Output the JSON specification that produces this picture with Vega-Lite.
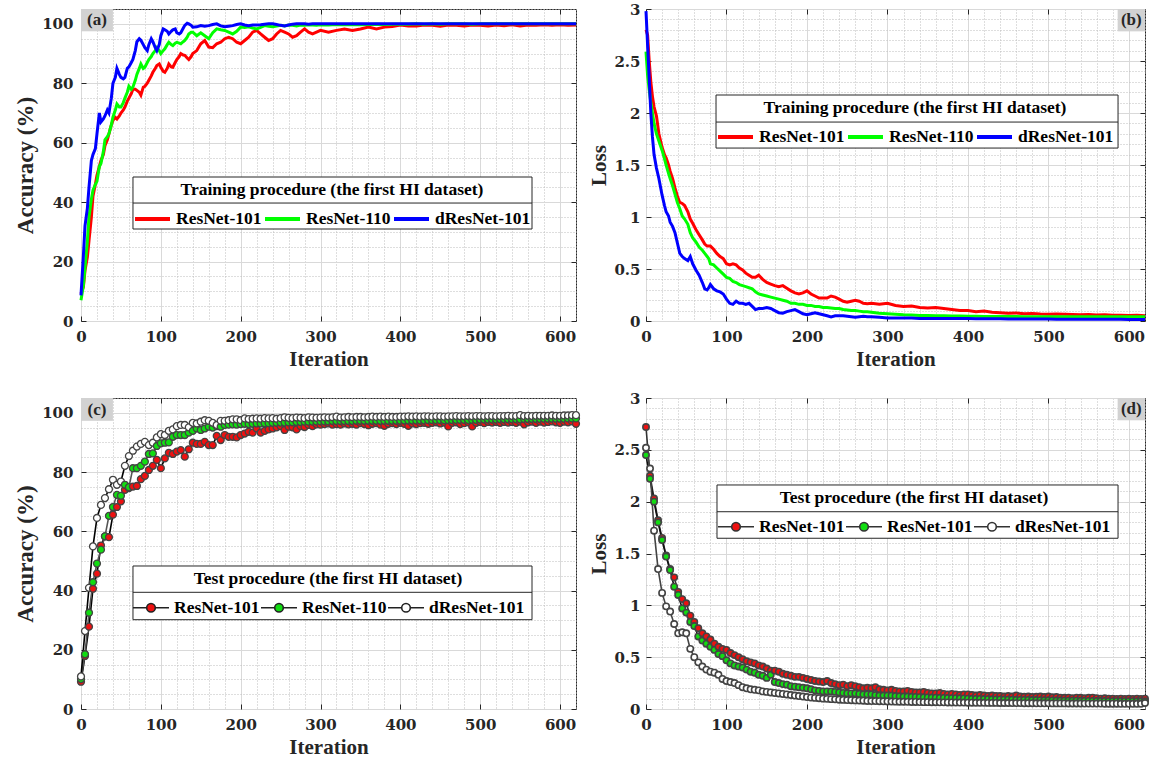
{
"$schema": "https://vega.github.io/schema/vega-lite/v6.json",
"padding": {"left": 14, "top": 1, "right": 2, "bottom": 2},
"background": "white",
"datasets": {
"trainAcc": [
{"iter":0,"ResNet-101":9.2,"ResNet-110":7.0,"dResNet-101":8.6},
{"iter":3,"ResNet-101":11.5,"ResNet-110":12,"dResNet-101":22},
{"iter":5,"ResNet-101":17,"ResNet-110":18,"dResNet-101":32},
{"iter":8,"ResNet-101":21.5,"ResNet-110":27,"dResNet-101":38},
{"iter":10,"ResNet-101":27,"ResNet-110":35,"dResNet-101":45},
{"iter":13,"ResNet-101":35,"ResNet-110":41,"dResNet-101":54},
{"iter":15,"ResNet-101":42,"ResNet-110":44,"dResNet-101":56},
{"iter":18,"ResNet-101":46,"ResNet-110":46,"dResNet-101":58},
{"iter":20,"ResNet-101":49,"ResNet-110":47,"dResNet-101":63},
{"iter":23,"ResNet-101":52,"ResNet-110":52,"dResNet-101":70},
{"iter":25,"ResNet-101":54,"ResNet-110":53,"dResNet-101":67},
{"iter":28,"ResNet-101":56,"ResNet-110":57,"dResNet-101":68},
{"iter":30,"ResNet-101":59,"ResNet-110":61,"dResNet-101":69},
{"iter":33,"ResNet-101":61,"ResNet-110":62,"dResNet-101":71},
{"iter":35,"ResNet-101":63,"ResNet-110":63,"dResNet-101":70},
{"iter":38,"ResNet-101":66,"ResNet-110":66,"dResNet-101":75},
{"iter":40,"ResNet-101":67.5,"ResNet-110":68.6,"dResNet-101":80},
{"iter":43,"ResNet-101":68.5,"ResNet-110":71,"dResNet-101":82},
{"iter":45,"ResNet-101":68,"ResNet-110":73,"dResNet-101":85},
{"iter":48,"ResNet-101":69,"ResNet-110":72,"dResNet-101":83},
{"iter":50,"ResNet-101":70,"ResNet-110":72,"dResNet-101":82},
{"iter":53,"ResNet-101":71,"ResNet-110":73.5,"dResNet-101":81.5},
{"iter":55,"ResNet-101":72,"ResNet-110":75,"dResNet-101":82},
{"iter":58,"ResNet-101":74,"ResNet-110":77,"dResNet-101":85},
{"iter":60,"ResNet-101":75,"ResNet-110":79,"dResNet-101":85.5},
{"iter":63,"ResNet-101":76.5,"ResNet-110":78,"dResNet-101":87},
{"iter":65,"ResNet-101":78,"ResNet-110":78.7,"dResNet-101":88},
{"iter":68,"ResNet-101":78,"ResNet-110":81,"dResNet-101":91},
{"iter":70,"ResNet-101":77.6,"ResNet-110":83,"dResNet-101":94},
{"iter":73,"ResNet-101":77,"ResNet-110":85,"dResNet-101":95},
{"iter":75,"ResNet-101":76,"ResNet-110":86.5,"dResNet-101":94.5},
{"iter":78,"ResNet-101":78.7,"ResNet-110":85,"dResNet-101":93},
{"iter":80,"ResNet-101":79,"ResNet-110":85.4,"dResNet-101":92},
{"iter":83,"ResNet-101":80,"ResNet-110":87,"dResNet-101":91},
{"iter":85,"ResNet-101":81,"ResNet-110":88,"dResNet-101":93},
{"iter":88,"ResNet-101":82.5,"ResNet-110":89,"dResNet-101":95},
{"iter":90,"ResNet-101":83.7,"ResNet-110":90,"dResNet-101":94},
{"iter":93,"ResNet-101":85,"ResNet-110":91,"dResNet-101":92},
{"iter":95,"ResNet-101":86,"ResNet-110":92,"dResNet-101":91},
{"iter":98,"ResNet-101":86.5,"ResNet-110":91,"dResNet-101":93},
{"iter":100,"ResNet-101":85.4,"ResNet-110":90,"dResNet-101":96},
{"iter":103,"ResNet-101":84,"ResNet-110":91,"dResNet-101":98.3},
{"iter":105,"ResNet-101":83.7,"ResNet-110":91.6,"dResNet-101":98},
{"iter":108,"ResNet-101":85,"ResNet-110":93,"dResNet-101":97.5},
{"iter":110,"ResNet-101":86.5,"ResNet-110":93.8,"dResNet-101":96.6},
{"iter":113,"ResNet-101":85.5,"ResNet-110":93,"dResNet-101":97.5},
{"iter":115,"ResNet-101":85.4,"ResNet-110":92.7,"dResNet-101":98},
{"iter":118,"ResNet-101":87,"ResNet-110":93.5,"dResNet-101":98.3},
{"iter":120,"ResNet-101":88,"ResNet-110":93.8,"dResNet-101":97},
{"iter":123,"ResNet-101":89,"ResNet-110":93.5,"dResNet-101":96.6},
{"iter":125,"ResNet-101":90,"ResNet-110":93.3,"dResNet-101":97},
{"iter":128,"ResNet-101":89.5,"ResNet-110":94,"dResNet-101":98.5},
{"iter":130,"ResNet-101":89.4,"ResNet-110":94.4,"dResNet-101":99.5},
{"iter":133,"ResNet-101":88.5,"ResNet-110":95.5,"dResNet-101":100.2},
{"iter":135,"ResNet-101":88,"ResNet-110":96.6,"dResNet-101":100},
{"iter":138,"ResNet-101":89,"ResNet-110":97.2,"dResNet-101":99.5},
{"iter":140,"ResNet-101":90,"ResNet-110":97.2,"dResNet-101":98.9},
{"iter":145,"ResNet-101":91,"ResNet-110":96,"dResNet-101":99},
{"iter":150,"ResNet-101":93.3,"ResNet-110":97,"dResNet-101":99.4},
{"iter":155,"ResNet-101":94.4,"ResNet-110":96,"dResNet-101":99.2},
{"iter":160,"ResNet-101":92.2,"ResNet-110":95,"dResNet-101":99.4},
{"iter":165,"ResNet-101":92,"ResNet-110":97,"dResNet-101":99.8},
{"iter":170,"ResNet-101":93.3,"ResNet-110":98.3,"dResNet-101":100},
{"iter":175,"ResNet-101":93.8,"ResNet-110":98,"dResNet-101":99.3},
{"iter":180,"ResNet-101":95,"ResNet-110":97.8,"dResNet-101":99},
{"iter":185,"ResNet-101":95.5,"ResNet-110":97.2,"dResNet-101":99.2},
{"iter":190,"ResNet-101":95,"ResNet-110":96.6,"dResNet-101":99.4},
{"iter":195,"ResNet-101":93.8,"ResNet-110":97.5,"dResNet-101":99.8},
{"iter":200,"ResNet-101":93.3,"ResNet-110":98.9,"dResNet-101":100},
{"iter":205,"ResNet-101":94.4,"ResNet-110":98.8,"dResNet-101":99.6},
{"iter":210,"ResNet-101":95.5,"ResNet-110":99,"dResNet-101":99.4},
{"iter":215,"ResNet-101":97.2,"ResNet-110":98.6,"dResNet-101":99.6},
{"iter":220,"ResNet-101":97.8,"ResNet-110":98.3,"dResNet-101":99.6},
{"iter":225,"ResNet-101":96.6,"ResNet-110":98.8,"dResNet-101":99.7},
{"iter":230,"ResNet-101":95.5,"ResNet-110":99.4,"dResNet-101":99.9},
{"iter":235,"ResNet-101":94.4,"ResNet-110":99.2,"dResNet-101":100},
{"iter":240,"ResNet-101":95,"ResNet-110":99,"dResNet-101":100},
{"iter":245,"ResNet-101":96.6,"ResNet-110":99.3,"dResNet-101":99.8},
{"iter":250,"ResNet-101":97.8,"ResNet-110":99.5,"dResNet-101":99.5},
{"iter":255,"ResNet-101":97.2,"ResNet-110":99.3,"dResNet-101":99.3},
{"iter":260,"ResNet-101":96.6,"ResNet-110":99.6,"dResNet-101":99.6},
{"iter":265,"ResNet-101":95.5,"ResNet-110":99.5,"dResNet-101":99.9},
{"iter":270,"ResNet-101":96,"ResNet-110":99.3,"dResNet-101":100},
{"iter":275,"ResNet-101":97.2,"ResNet-110":99.6,"dResNet-101":100},
{"iter":280,"ResNet-101":98.3,"ResNet-110":99.5,"dResNet-101":100},
{"iter":285,"ResNet-101":97.2,"ResNet-110":99.7,"dResNet-101":99.9},
{"iter":290,"ResNet-101":96.6,"ResNet-110":99.6,"dResNet-101":100},
{"iter":295,"ResNet-101":97.2,"ResNet-110":99.5,"dResNet-101":100},
{"iter":300,"ResNet-101":97.8,"ResNet-110":99.7,"dResNet-101":100},
{"iter":310,"ResNet-101":97.2,"ResNet-110":99.6,"dResNet-101":100},
{"iter":320,"ResNet-101":97.8,"ResNet-110":99.8,"dResNet-101":100},
{"iter":330,"ResNet-101":98.3,"ResNet-110":99.7,"dResNet-101":100},
{"iter":340,"ResNet-101":97.8,"ResNet-110":99.8,"dResNet-101":100},
{"iter":350,"ResNet-101":98.3,"ResNet-110":99.7,"dResNet-101":100},
{"iter":360,"ResNet-101":98.9,"ResNet-110":99.8,"dResNet-101":100},
{"iter":370,"ResNet-101":98.3,"ResNet-110":99.9,"dResNet-101":100},
{"iter":380,"ResNet-101":98.9,"ResNet-110":99.8,"dResNet-101":100},
{"iter":390,"ResNet-101":99.1,"ResNet-110":99.9,"dResNet-101":100},
{"iter":400,"ResNet-101":99.6,"ResNet-110":99.9,"dResNet-101":100},
{"iter":410,"ResNet-101":99.3,"ResNet-110":99.9,"dResNet-101":100},
{"iter":420,"ResNet-101":99.3,"ResNet-110":100,"dResNet-101":100},
{"iter":430,"ResNet-101":99.6,"ResNet-110":99.9,"dResNet-101":100},
{"iter":440,"ResNet-101":99.5,"ResNet-110":100,"dResNet-101":100},
{"iter":450,"ResNet-101":99.2,"ResNet-110":99.9,"dResNet-101":100},
{"iter":460,"ResNet-101":99.6,"ResNet-110":100,"dResNet-101":100},
{"iter":470,"ResNet-101":99.5,"ResNet-110":100,"dResNet-101":100},
{"iter":480,"ResNet-101":99.3,"ResNet-110":100,"dResNet-101":100},
{"iter":490,"ResNet-101":99.6,"ResNet-110":99.9,"dResNet-101":100},
{"iter":500,"ResNet-101":99.5,"ResNet-110":100,"dResNet-101":100},
{"iter":510,"ResNet-101":99.3,"ResNet-110":100,"dResNet-101":100},
{"iter":520,"ResNet-101":99.6,"ResNet-110":100,"dResNet-101":100},
{"iter":530,"ResNet-101":99.4,"ResNet-110":100,"dResNet-101":100},
{"iter":540,"ResNet-101":99.7,"ResNet-110":100,"dResNet-101":100},
{"iter":550,"ResNet-101":99.3,"ResNet-110":100,"dResNet-101":100},
{"iter":560,"ResNet-101":99.6,"ResNet-110":100,"dResNet-101":100},
{"iter":570,"ResNet-101":99.5,"ResNet-110":100,"dResNet-101":100},
{"iter":580,"ResNet-101":99.7,"ResNet-110":100,"dResNet-101":100},
{"iter":590,"ResNet-101":99.5,"ResNet-110":100,"dResNet-101":100},
{"iter":600,"ResNet-101":99.7,"ResNet-110":100,"dResNet-101":100},
{"iter":610,"ResNet-101":99.5,"ResNet-110":100,"dResNet-101":100},
{"iter":620,"ResNet-101":99.6,"ResNet-110":100,"dResNet-101":100}
],
"trainLoss": [
{"iter":0,"ResNet-101":2.8,"ResNet-110":2.59,"dResNet-101":2.98},
{"iter":2,"ResNet-101":2.75,"ResNet-110":2.36,"dResNet-101":2.65},
{"iter":4,"ResNet-101":2.5,"ResNet-110":2.22,"dResNet-101":2.33},
{"iter":6,"ResNet-101":2.3,"ResNet-110":2.1,"dResNet-101":2.0},
{"iter":8,"ResNet-101":2.16,"ResNet-110":2.0,"dResNet-101":1.77},
{"iter":10,"ResNet-101":2.06,"ResNet-110":1.9,"dResNet-101":1.6},
{"iter":13,"ResNet-101":1.97,"ResNet-110":1.8,"dResNet-101":1.47},
{"iter":16,"ResNet-101":1.8,"ResNet-110":1.73,"dResNet-101":1.37},
{"iter":20,"ResNet-101":1.67,"ResNet-110":1.64,"dResNet-101":1.21},
{"iter":23,"ResNet-101":1.6,"ResNet-110":1.56,"dResNet-101":1.11},
{"iter":25,"ResNet-101":1.57,"ResNet-110":1.5,"dResNet-101":1.05},
{"iter":28,"ResNet-101":1.5,"ResNet-110":1.42,"dResNet-101":1.01},
{"iter":30,"ResNet-101":1.44,"ResNet-110":1.37,"dResNet-101":0.95},
{"iter":33,"ResNet-101":1.37,"ResNet-110":1.3,"dResNet-101":0.91},
{"iter":36,"ResNet-101":1.28,"ResNet-110":1.22,"dResNet-101":0.85},
{"iter":39,"ResNet-101":1.2,"ResNet-110":1.14,"dResNet-101":0.75},
{"iter":42,"ResNet-101":1.14,"ResNet-110":1.08,"dResNet-101":0.65},
{"iter":45,"ResNet-101":1.13,"ResNet-110":1.01,"dResNet-101":0.62},
{"iter":48,"ResNet-101":1.11,"ResNet-110":0.98,"dResNet-101":0.6},
{"iter":52,"ResNet-101":1.05,"ResNet-110":0.93,"dResNet-101":0.58},
{"iter":55,"ResNet-101":0.98,"ResNet-110":0.85,"dResNet-101":0.62},
{"iter":58,"ResNet-101":0.94,"ResNet-110":0.8,"dResNet-101":0.55},
{"iter":62,"ResNet-101":0.88,"ResNet-110":0.76,"dResNet-101":0.49},
{"iter":66,"ResNet-101":0.83,"ResNet-110":0.71,"dResNet-101":0.44},
{"iter":70,"ResNet-101":0.78,"ResNet-110":0.68,"dResNet-101":0.37},
{"iter":73,"ResNet-101":0.74,"ResNet-110":0.65,"dResNet-101":0.31},
{"iter":76,"ResNet-101":0.72,"ResNet-110":0.62,"dResNet-101":0.3},
{"iter":78,"ResNet-101":0.72,"ResNet-110":0.6,"dResNet-101":0.32},
{"iter":80,"ResNet-101":0.72,"ResNet-110":0.55,"dResNet-101":0.35},
{"iter":84,"ResNet-101":0.69,"ResNet-110":0.54,"dResNet-101":0.31},
{"iter":88,"ResNet-101":0.65,"ResNet-110":0.51,"dResNet-101":0.29},
{"iter":92,"ResNet-101":0.62,"ResNet-110":0.48,"dResNet-101":0.28},
{"iter":96,"ResNet-101":0.6,"ResNet-110":0.45,"dResNet-101":0.26},
{"iter":100,"ResNet-101":0.55,"ResNet-110":0.42,"dResNet-101":0.21},
{"iter":104,"ResNet-101":0.54,"ResNet-110":0.41,"dResNet-101":0.17},
{"iter":108,"ResNet-101":0.55,"ResNet-110":0.38,"dResNet-101":0.16},
{"iter":112,"ResNet-101":0.54,"ResNet-110":0.37,"dResNet-101":0.19},
{"iter":116,"ResNet-101":0.51,"ResNet-110":0.35,"dResNet-101":0.17},
{"iter":120,"ResNet-101":0.49,"ResNet-110":0.34,"dResNet-101":0.17},
{"iter":124,"ResNet-101":0.46,"ResNet-110":0.33,"dResNet-101":0.16},
{"iter":128,"ResNet-101":0.44,"ResNet-110":0.32,"dResNet-101":0.17},
{"iter":132,"ResNet-101":0.42,"ResNet-110":0.31,"dResNet-101":0.14},
{"iter":136,"ResNet-101":0.42,"ResNet-110":0.28,"dResNet-101":0.11},
{"iter":140,"ResNet-101":0.44,"ResNet-110":0.26,"dResNet-101":0.12},
{"iter":145,"ResNet-101":0.4,"ResNet-110":0.25,"dResNet-101":0.12},
{"iter":150,"ResNet-101":0.37,"ResNet-110":0.24,"dResNet-101":0.13},
{"iter":155,"ResNet-101":0.355,"ResNet-110":0.23,"dResNet-101":0.12},
{"iter":160,"ResNet-101":0.34,"ResNet-110":0.22,"dResNet-101":0.1},
{"iter":165,"ResNet-101":0.33,"ResNet-110":0.21,"dResNet-101":0.08},
{"iter":170,"ResNet-101":0.34,"ResNet-110":0.2,"dResNet-101":0.075},
{"iter":175,"ResNet-101":0.315,"ResNet-110":0.19,"dResNet-101":0.09},
{"iter":180,"ResNet-101":0.29,"ResNet-110":0.17,"dResNet-101":0.1},
{"iter":185,"ResNet-101":0.27,"ResNet-110":0.17,"dResNet-101":0.11},
{"iter":190,"ResNet-101":0.26,"ResNet-110":0.16,"dResNet-101":0.09},
{"iter":195,"ResNet-101":0.27,"ResNet-110":0.16,"dResNet-101":0.07},
{"iter":200,"ResNet-101":0.29,"ResNet-110":0.15,"dResNet-101":0.06},
{"iter":205,"ResNet-101":0.26,"ResNet-110":0.15,"dResNet-101":0.07},
{"iter":210,"ResNet-101":0.24,"ResNet-110":0.14,"dResNet-101":0.08},
{"iter":215,"ResNet-101":0.22,"ResNet-110":0.14,"dResNet-101":0.07},
{"iter":220,"ResNet-101":0.22,"ResNet-110":0.13,"dResNet-101":0.06},
{"iter":225,"ResNet-101":0.22,"ResNet-110":0.13,"dResNet-101":0.05},
{"iter":230,"ResNet-101":0.24,"ResNet-110":0.125,"dResNet-101":0.04},
{"iter":235,"ResNet-101":0.23,"ResNet-110":0.12,"dResNet-101":0.05},
{"iter":240,"ResNet-101":0.21,"ResNet-110":0.12,"dResNet-101":0.05},
{"iter":245,"ResNet-101":0.19,"ResNet-110":0.11,"dResNet-101":0.05},
{"iter":250,"ResNet-101":0.18,"ResNet-110":0.105,"dResNet-101":0.045},
{"iter":255,"ResNet-101":0.19,"ResNet-110":0.1,"dResNet-101":0.04},
{"iter":260,"ResNet-101":0.2,"ResNet-110":0.1,"dResNet-101":0.035},
{"iter":265,"ResNet-101":0.19,"ResNet-110":0.095,"dResNet-101":0.04},
{"iter":270,"ResNet-101":0.17,"ResNet-110":0.09,"dResNet-101":0.045},
{"iter":275,"ResNet-101":0.165,"ResNet-110":0.09,"dResNet-101":0.04},
{"iter":280,"ResNet-101":0.17,"ResNet-110":0.085,"dResNet-101":0.04},
{"iter":290,"ResNet-101":0.16,"ResNet-110":0.075,"dResNet-101":0.035},
{"iter":300,"ResNet-101":0.17,"ResNet-110":0.07,"dResNet-101":0.03},
{"iter":310,"ResNet-101":0.15,"ResNet-110":0.065,"dResNet-101":0.03},
{"iter":320,"ResNet-101":0.14,"ResNet-110":0.06,"dResNet-101":0.03},
{"iter":330,"ResNet-101":0.145,"ResNet-110":0.058,"dResNet-101":0.028},
{"iter":340,"ResNet-101":0.13,"ResNet-110":0.053,"dResNet-101":0.025},
{"iter":350,"ResNet-101":0.125,"ResNet-110":0.052,"dResNet-101":0.025},
{"iter":360,"ResNet-101":0.13,"ResNet-110":0.05,"dResNet-101":0.025},
{"iter":370,"ResNet-101":0.12,"ResNet-110":0.05,"dResNet-101":0.024},
{"iter":380,"ResNet-101":0.11,"ResNet-110":0.048,"dResNet-101":0.024},
{"iter":390,"ResNet-101":0.1,"ResNet-110":0.047,"dResNet-101":0.023},
{"iter":400,"ResNet-101":0.1,"ResNet-110":0.045,"dResNet-101":0.023},
{"iter":410,"ResNet-101":0.09,"ResNet-110":0.045,"dResNet-101":0.022},
{"iter":420,"ResNet-101":0.095,"ResNet-110":0.044,"dResNet-101":0.022},
{"iter":430,"ResNet-101":0.085,"ResNet-110":0.044,"dResNet-101":0.021},
{"iter":440,"ResNet-101":0.08,"ResNet-110":0.043,"dResNet-101":0.021},
{"iter":450,"ResNet-101":0.075,"ResNet-110":0.043,"dResNet-101":0.02},
{"iter":460,"ResNet-101":0.078,"ResNet-110":0.043,"dResNet-101":0.02},
{"iter":470,"ResNet-101":0.07,"ResNet-110":0.042,"dResNet-101":0.02},
{"iter":480,"ResNet-101":0.072,"ResNet-110":0.042,"dResNet-101":0.019},
{"iter":490,"ResNet-101":0.068,"ResNet-110":0.042,"dResNet-101":0.019},
{"iter":500,"ResNet-101":0.066,"ResNet-110":0.041,"dResNet-101":0.019},
{"iter":510,"ResNet-101":0.068,"ResNet-110":0.041,"dResNet-101":0.018},
{"iter":520,"ResNet-101":0.065,"ResNet-110":0.041,"dResNet-101":0.018},
{"iter":530,"ResNet-101":0.062,"ResNet-110":0.041,"dResNet-101":0.018},
{"iter":540,"ResNet-101":0.06,"ResNet-110":0.04,"dResNet-101":0.017},
{"iter":550,"ResNet-101":0.062,"ResNet-110":0.04,"dResNet-101":0.017},
{"iter":560,"ResNet-101":0.058,"ResNet-110":0.04,"dResNet-101":0.017},
{"iter":570,"ResNet-101":0.06,"ResNet-110":0.04,"dResNet-101":0.016},
{"iter":580,"ResNet-101":0.056,"ResNet-110":0.04,"dResNet-101":0.016},
{"iter":590,"ResNet-101":0.055,"ResNet-110":0.04,"dResNet-101":0.016},
{"iter":600,"ResNet-101":0.053,"ResNet-110":0.04,"dResNet-101":0.015},
{"iter":610,"ResNet-101":0.055,"ResNet-110":0.04,"dResNet-101":0.015},
{"iter":620,"ResNet-101":0.05,"ResNet-110":0.04,"dResNet-101":0.015}
],
"testAcc": [
{"iter":0,"ResNet-101":9.2,"ResNet-110":10.1,"dResNet-101":11.0},
{"iter":5,"ResNet-101":17.9,"ResNet-110":18.5,"dResNet-101":26.3},
{"iter":10,"ResNet-101":27.8,"ResNet-110":32.5,"dResNet-101":40.9},
{"iter":15,"ResNet-101":40.6,"ResNet-110":42.8,"dResNet-101":54.9},
{"iter":20,"ResNet-101":45.7,"ResNet-110":49.1,"dResNet-101":64.5},
{"iter":25,"ResNet-101":55.2,"ResNet-110":53.8,"dResNet-101":68.9},
{"iter":30,"ResNet-101":58.3,"ResNet-110":58.3,"dResNet-101":71.2},
{"iter":35,"ResNet-101":58.0,"ResNet-110":65.2,"dResNet-101":74.2},
{"iter":40,"ResNet-101":65.6,"ResNet-110":68.2,"dResNet-101":77.4},
{"iter":45,"ResNet-101":68.2,"ResNet-110":72.3,"dResNet-101":75.7},
{"iter":50,"ResNet-101":70.1,"ResNet-110":72.0,"dResNet-101":76.8},
{"iter":55,"ResNet-101":74.0,"ResNet-110":75.7,"dResNet-101":82.1},
{"iter":60,"ResNet-101":74.6,"ResNet-110":74.9,"dResNet-101":85.4},
{"iter":65,"ResNet-101":75.1,"ResNet-110":81.3,"dResNet-101":87.2},
{"iter":70,"ResNet-101":75.3,"ResNet-110":81.3,"dResNet-101":88.6},
{"iter":75,"ResNet-101":77.6,"ResNet-110":82.1,"dResNet-101":89.5},
{"iter":80,"ResNet-101":78.7,"ResNet-110":83.5,"dResNet-101":90.2},
{"iter":85,"ResNet-101":80.7,"ResNet-110":86.1,"dResNet-101":89.1},
{"iter":90,"ResNet-101":82.1,"ResNet-110":86.3,"dResNet-101":89.9},
{"iter":95,"ResNet-101":84.1,"ResNet-110":88.8,"dResNet-101":91.7},
{"iter":100,"ResNet-101":81.3,"ResNet-110":89.7,"dResNet-101":92.8},
{"iter":105,"ResNet-101":84.6,"ResNet-110":89.9,"dResNet-101":92.5},
{"iter":110,"ResNet-101":86.5,"ResNet-110":90.0,"dResNet-101":93.9},
{"iter":115,"ResNet-101":86.1,"ResNet-110":91.9,"dResNet-101":94.4},
{"iter":120,"ResNet-101":86.9,"ResNet-110":92.5,"dResNet-101":95.5},
{"iter":125,"ResNet-101":87.4,"ResNet-110":92.5,"dResNet-101":95.9},
{"iter":130,"ResNet-101":85.2,"ResNet-110":92.5,"dResNet-101":95.9},
{"iter":135,"ResNet-101":87.7,"ResNet-110":93.3,"dResNet-101":95.1},
{"iter":140,"ResNet-101":89.9,"ResNet-110":93.9,"dResNet-101":96.6},
{"iter":145,"ResNet-101":89.5,"ResNet-110":94.7,"dResNet-101":96.4},
{"iter":150,"ResNet-101":89.5,"ResNet-110":94.2,"dResNet-101":97.0},
{"iter":155,"ResNet-101":90.2,"ResNet-110":94.7,"dResNet-101":97.5},
{"iter":160,"ResNet-101":89.1,"ResNet-110":95.3,"dResNet-101":97.3},
{"iter":165,"ResNet-101":89.1,"ResNet-110":95.0,"dResNet-101":96.6},
{"iter":170,"ResNet-101":92.2,"ResNet-110":95.5,"dResNet-101":95.9},
{"iter":175,"ResNet-101":90.8,"ResNet-110":95.3,"dResNet-101":97.3},
{"iter":180,"ResNet-101":92.5,"ResNet-110":95.9,"dResNet-101":97.3},
{"iter":185,"ResNet-101":91.9,"ResNet-110":96.0,"dResNet-101":97.5},
{"iter":190,"ResNet-101":91.9,"ResNet-110":96.1,"dResNet-101":97.8},
{"iter":195,"ResNet-101":91.7,"ResNet-110":96.0,"dResNet-101":97.8},
{"iter":200,"ResNet-101":92.5,"ResNet-110":96.2,"dResNet-101":97.5},
{"iter":205,"ResNet-101":93.0,"ResNet-110":96.3,"dResNet-101":98.1},
{"iter":210,"ResNet-101":93.6,"ResNet-110":96.2,"dResNet-101":97.9},
{"iter":215,"ResNet-101":93.3,"ResNet-110":96.3,"dResNet-101":98.0},
{"iter":220,"ResNet-101":94.7,"ResNet-110":96.4,"dResNet-101":98.1},
{"iter":225,"ResNet-101":93.3,"ResNet-110":96.4,"dResNet-101":98.0},
{"iter":230,"ResNet-101":93.9,"ResNet-110":96.5,"dResNet-101":98.2},
{"iter":235,"ResNet-101":94.4,"ResNet-110":96.5,"dResNet-101":98.1},
{"iter":240,"ResNet-101":94.7,"ResNet-110":96.6,"dResNet-101":98.2},
{"iter":245,"ResNet-101":95.1,"ResNet-110":96.6,"dResNet-101":98.0},
{"iter":250,"ResNet-101":95.5,"ResNet-110":96.7,"dResNet-101":98.2},
{"iter":255,"ResNet-101":94.2,"ResNet-110":96.7,"dResNet-101":98.5},
{"iter":260,"ResNet-101":95.3,"ResNet-110":96.8,"dResNet-101":98.3},
{"iter":265,"ResNet-101":95.1,"ResNet-110":96.8,"dResNet-101":98.2},
{"iter":270,"ResNet-101":94.4,"ResNet-110":96.9,"dResNet-101":98.4},
{"iter":275,"ResNet-101":95.5,"ResNet-110":96.9,"dResNet-101":98.3},
{"iter":280,"ResNet-101":95.2,"ResNet-110":97.0,"dResNet-101":98.2},
{"iter":285,"ResNet-101":95.9,"ResNet-110":97.0,"dResNet-101":98.5},
{"iter":290,"ResNet-101":95.5,"ResNet-110":97.0,"dResNet-101":98.4},
{"iter":295,"ResNet-101":96.1,"ResNet-110":97.1,"dResNet-101":98.3},
{"iter":300,"ResNet-101":96.0,"ResNet-110":97.1,"dResNet-101":98.4},
{"iter":305,"ResNet-101":96.2,"ResNet-110":97.1,"dResNet-101":98.5},
{"iter":310,"ResNet-101":96.4,"ResNet-110":97.1,"dResNet-101":98.4},
{"iter":315,"ResNet-101":96.0,"ResNet-110":97.2,"dResNet-101":98.5},
{"iter":320,"ResNet-101":96.2,"ResNet-110":97.2,"dResNet-101":98.7},
{"iter":325,"ResNet-101":96.0,"ResNet-110":97.2,"dResNet-101":98.4},
{"iter":330,"ResNet-101":96.4,"ResNet-110":97.2,"dResNet-101":98.5},
{"iter":335,"ResNet-101":96.1,"ResNet-110":97.2,"dResNet-101":98.6},
{"iter":340,"ResNet-101":96.3,"ResNet-110":97.2,"dResNet-101":98.5},
{"iter":345,"ResNet-101":96.0,"ResNet-110":97.3,"dResNet-101":98.6},
{"iter":350,"ResNet-101":96.5,"ResNet-110":97.3,"dResNet-101":98.6},
{"iter":355,"ResNet-101":96.2,"ResNet-110":97.3,"dResNet-101":98.5},
{"iter":360,"ResNet-101":95.8,"ResNet-110":97.3,"dResNet-101":98.6},
{"iter":365,"ResNet-101":96.3,"ResNet-110":97.3,"dResNet-101":98.7},
{"iter":370,"ResNet-101":96.5,"ResNet-110":97.3,"dResNet-101":98.6},
{"iter":375,"ResNet-101":96.0,"ResNet-110":97.3,"dResNet-101":98.7},
{"iter":380,"ResNet-101":95.6,"ResNet-110":97.3,"dResNet-101":98.6},
{"iter":385,"ResNet-101":96.3,"ResNet-110":97.3,"dResNet-101":98.7},
{"iter":390,"ResNet-101":96.5,"ResNet-110":97.3,"dResNet-101":98.6},
{"iter":395,"ResNet-101":96.2,"ResNet-110":97.3,"dResNet-101":98.6},
{"iter":400,"ResNet-101":96.6,"ResNet-110":97.3,"dResNet-101":98.7},
{"iter":405,"ResNet-101":96.3,"ResNet-110":97.4,"dResNet-101":98.7},
{"iter":410,"ResNet-101":95.6,"ResNet-110":97.4,"dResNet-101":98.8},
{"iter":415,"ResNet-101":96.4,"ResNet-110":97.4,"dResNet-101":98.7},
{"iter":420,"ResNet-101":96.2,"ResNet-110":97.4,"dResNet-101":98.8},
{"iter":425,"ResNet-101":96.5,"ResNet-110":97.4,"dResNet-101":98.7},
{"iter":430,"ResNet-101":96.6,"ResNet-110":97.4,"dResNet-101":98.8},
{"iter":435,"ResNet-101":96.3,"ResNet-110":97.5,"dResNet-101":98.8},
{"iter":440,"ResNet-101":96.6,"ResNet-110":97.5,"dResNet-101":98.7},
{"iter":445,"ResNet-101":96.8,"ResNet-110":97.5,"dResNet-101":98.8},
{"iter":450,"ResNet-101":96.4,"ResNet-110":97.5,"dResNet-101":98.8},
{"iter":455,"ResNet-101":96.7,"ResNet-110":97.5,"dResNet-101":98.7},
{"iter":460,"ResNet-101":95.4,"ResNet-110":97.5,"dResNet-101":98.8},
{"iter":465,"ResNet-101":96.6,"ResNet-110":97.5,"dResNet-101":98.8},
{"iter":470,"ResNet-101":96.8,"ResNet-110":97.6,"dResNet-101":98.9},
{"iter":475,"ResNet-101":96.2,"ResNet-110":97.6,"dResNet-101":98.8},
{"iter":480,"ResNet-101":96.5,"ResNet-110":97.6,"dResNet-101":98.8},
{"iter":485,"ResNet-101":96.8,"ResNet-110":97.6,"dResNet-101":98.9},
{"iter":490,"ResNet-101":95.4,"ResNet-110":97.6,"dResNet-101":98.8},
{"iter":495,"ResNet-101":96.6,"ResNet-110":97.6,"dResNet-101":98.9},
{"iter":500,"ResNet-101":96.9,"ResNet-110":97.7,"dResNet-101":98.9},
{"iter":505,"ResNet-101":96.5,"ResNet-110":97.7,"dResNet-101":98.8},
{"iter":510,"ResNet-101":96.9,"ResNet-110":97.7,"dResNet-101":98.9},
{"iter":515,"ResNet-101":96.7,"ResNet-110":97.7,"dResNet-101":98.9},
{"iter":520,"ResNet-101":96.9,"ResNet-110":97.7,"dResNet-101":98.8},
{"iter":525,"ResNet-101":96.6,"ResNet-110":97.8,"dResNet-101":98.9},
{"iter":530,"ResNet-101":96.9,"ResNet-110":97.8,"dResNet-101":98.9},
{"iter":535,"ResNet-101":96.7,"ResNet-110":97.8,"dResNet-101":99.0},
{"iter":540,"ResNet-101":96.9,"ResNet-110":97.8,"dResNet-101":98.9},
{"iter":545,"ResNet-101":96.6,"ResNet-110":97.8,"dResNet-101":98.9},
{"iter":550,"ResNet-101":97.0,"ResNet-110":97.8,"dResNet-101":99.2},
{"iter":555,"ResNet-101":96.1,"ResNet-110":97.9,"dResNet-101":98.9},
{"iter":560,"ResNet-101":96.8,"ResNet-110":97.9,"dResNet-101":99.0},
{"iter":565,"ResNet-101":97.0,"ResNet-110":97.9,"dResNet-101":98.9},
{"iter":570,"ResNet-101":96.6,"ResNet-110":97.9,"dResNet-101":99.0},
{"iter":575,"ResNet-101":97.0,"ResNet-110":97.9,"dResNet-101":99.0},
{"iter":580,"ResNet-101":96.7,"ResNet-110":98.0,"dResNet-101":99.0},
{"iter":585,"ResNet-101":96.9,"ResNet-110":98.0,"dResNet-101":99.0},
{"iter":590,"ResNet-101":97.1,"ResNet-110":98.0,"dResNet-101":99.1},
{"iter":595,"ResNet-101":96.8,"ResNet-110":98.0,"dResNet-101":99.0},
{"iter":600,"ResNet-101":96.6,"ResNet-110":98.0,"dResNet-101":99.0},
{"iter":605,"ResNet-101":97.0,"ResNet-110":98.0,"dResNet-101":99.1},
{"iter":610,"ResNet-101":96.8,"ResNet-110":98.1,"dResNet-101":99.1},
{"iter":615,"ResNet-101":97.1,"ResNet-110":98.1,"dResNet-101":99.2},
{"iter":620,"ResNet-101":96.3,"ResNet-110":98.1,"dResNet-101":99.2}
],
"testLoss": [
{"iter":0,"ResNet-101":2.72,"ResNet-110":2.45,"dResNet-101":2.52},
{"iter":5,"ResNet-101":2.25,"ResNet-110":2.22,"dResNet-101":2.32},
{"iter":10,"ResNet-101":2.03,"ResNet-110":2.0,"dResNet-101":1.72},
{"iter":15,"ResNet-101":1.82,"ResNet-110":1.8,"dResNet-101":1.35},
{"iter":20,"ResNet-101":1.65,"ResNet-110":1.63,"dResNet-101":1.12},
{"iter":25,"ResNet-101":1.48,"ResNet-110":1.47,"dResNet-101":0.99},
{"iter":30,"ResNet-101":1.35,"ResNet-110":1.34,"dResNet-101":0.94},
{"iter":35,"ResNet-101":1.27,"ResNet-110":1.18,"dResNet-101":0.82},
{"iter":40,"ResNet-101":1.13,"ResNet-110":1.1,"dResNet-101":0.73},
{"iter":45,"ResNet-101":1.06,"ResNet-110":0.97,"dResNet-101":0.74},
{"iter":50,"ResNet-101":1.02,"ResNet-110":0.93,"dResNet-101":0.73},
{"iter":55,"ResNet-101":0.9,"ResNet-110":0.84,"dResNet-101":0.58},
{"iter":60,"ResNet-101":0.84,"ResNet-110":0.8,"dResNet-101":0.5},
{"iter":65,"ResNet-101":0.78,"ResNet-110":0.7,"dResNet-101":0.45},
{"iter":70,"ResNet-101":0.73,"ResNet-110":0.66,"dResNet-101":0.41},
{"iter":75,"ResNet-101":0.7,"ResNet-110":0.63,"dResNet-101":0.38},
{"iter":80,"ResNet-101":0.67,"ResNet-110":0.6,"dResNet-101":0.36},
{"iter":85,"ResNet-101":0.63,"ResNet-110":0.57,"dResNet-101":0.35},
{"iter":90,"ResNet-101":0.6,"ResNet-110":0.53,"dResNet-101":0.33},
{"iter":95,"ResNet-101":0.58,"ResNet-110":0.51,"dResNet-101":0.29},
{"iter":100,"ResNet-101":0.57,"ResNet-110":0.47,"dResNet-101":0.27},
{"iter":105,"ResNet-101":0.54,"ResNet-110":0.44,"dResNet-101":0.26},
{"iter":110,"ResNet-101":0.52,"ResNet-110":0.42,"dResNet-101":0.25},
{"iter":115,"ResNet-101":0.5,"ResNet-110":0.41,"dResNet-101":0.23},
{"iter":120,"ResNet-101":0.48,"ResNet-110":0.4,"dResNet-101":0.21},
{"iter":125,"ResNet-101":0.46,"ResNet-110":0.38,"dResNet-101":0.2},
{"iter":130,"ResNet-101":0.45,"ResNet-110":0.36,"dResNet-101":0.19},
{"iter":135,"ResNet-101":0.44,"ResNet-110":0.35,"dResNet-101":0.185},
{"iter":140,"ResNet-101":0.42,"ResNet-110":0.33,"dResNet-101":0.18},
{"iter":145,"ResNet-101":0.41,"ResNet-110":0.32,"dResNet-101":0.17},
{"iter":150,"ResNet-101":0.39,"ResNet-110":0.3,"dResNet-101":0.165},
{"iter":155,"ResNet-101":0.37,"ResNet-110":0.33,"dResNet-101":0.16},
{"iter":160,"ResNet-101":0.37,"ResNet-110":0.26,"dResNet-101":0.155},
{"iter":165,"ResNet-101":0.36,"ResNet-110":0.25,"dResNet-101":0.15},
{"iter":170,"ResNet-101":0.34,"ResNet-110":0.24,"dResNet-101":0.145},
{"iter":175,"ResNet-101":0.33,"ResNet-110":0.235,"dResNet-101":0.14},
{"iter":180,"ResNet-101":0.32,"ResNet-110":0.22,"dResNet-101":0.135},
{"iter":185,"ResNet-101":0.31,"ResNet-110":0.215,"dResNet-101":0.13},
{"iter":190,"ResNet-101":0.31,"ResNet-110":0.21,"dResNet-101":0.125},
{"iter":195,"ResNet-101":0.3,"ResNet-110":0.205,"dResNet-101":0.12},
{"iter":200,"ResNet-101":0.29,"ResNet-110":0.2,"dResNet-101":0.115},
{"iter":205,"ResNet-101":0.28,"ResNet-110":0.19,"dResNet-101":0.11},
{"iter":210,"ResNet-101":0.27,"ResNet-110":0.18,"dResNet-101":0.107},
{"iter":215,"ResNet-101":0.265,"ResNet-110":0.175,"dResNet-101":0.104},
{"iter":220,"ResNet-101":0.26,"ResNet-110":0.17,"dResNet-101":0.1},
{"iter":225,"ResNet-101":0.27,"ResNet-110":0.17,"dResNet-101":0.098},
{"iter":230,"ResNet-101":0.25,"ResNet-110":0.17,"dResNet-101":0.095},
{"iter":235,"ResNet-101":0.24,"ResNet-110":0.165,"dResNet-101":0.093},
{"iter":240,"ResNet-101":0.23,"ResNet-110":0.16,"dResNet-101":0.09},
{"iter":245,"ResNet-101":0.235,"ResNet-110":0.155,"dResNet-101":0.088},
{"iter":250,"ResNet-101":0.22,"ResNet-110":0.15,"dResNet-101":0.086},
{"iter":255,"ResNet-101":0.23,"ResNet-110":0.15,"dResNet-101":0.085},
{"iter":260,"ResNet-101":0.22,"ResNet-110":0.15,"dResNet-101":0.083},
{"iter":265,"ResNet-101":0.21,"ResNet-110":0.145,"dResNet-101":0.081},
{"iter":270,"ResNet-101":0.2,"ResNet-110":0.14,"dResNet-101":0.08},
{"iter":275,"ResNet-101":0.205,"ResNet-110":0.14,"dResNet-101":0.078},
{"iter":280,"ResNet-101":0.2,"ResNet-110":0.14,"dResNet-101":0.077},
{"iter":285,"ResNet-101":0.21,"ResNet-110":0.135,"dResNet-101":0.076},
{"iter":290,"ResNet-101":0.19,"ResNet-110":0.13,"dResNet-101":0.075},
{"iter":295,"ResNet-101":0.185,"ResNet-110":0.13,"dResNet-101":0.074},
{"iter":300,"ResNet-101":0.18,"ResNet-110":0.13,"dResNet-101":0.073},
{"iter":305,"ResNet-101":0.185,"ResNet-110":0.128,"dResNet-101":0.072},
{"iter":310,"ResNet-101":0.175,"ResNet-110":0.125,"dResNet-101":0.071},
{"iter":315,"ResNet-101":0.17,"ResNet-110":0.123,"dResNet-101":0.07},
{"iter":320,"ResNet-101":0.17,"ResNet-110":0.12,"dResNet-101":0.07},
{"iter":325,"ResNet-101":0.175,"ResNet-110":0.12,"dResNet-101":0.069},
{"iter":330,"ResNet-101":0.165,"ResNet-110":0.118,"dResNet-101":0.068},
{"iter":335,"ResNet-101":0.16,"ResNet-110":0.116,"dResNet-101":0.068},
{"iter":340,"ResNet-101":0.16,"ResNet-110":0.114,"dResNet-101":0.067},
{"iter":345,"ResNet-101":0.165,"ResNet-110":0.113,"dResNet-101":0.066},
{"iter":350,"ResNet-101":0.155,"ResNet-110":0.112,"dResNet-101":0.066},
{"iter":355,"ResNet-101":0.15,"ResNet-110":0.111,"dResNet-101":0.065},
{"iter":360,"ResNet-101":0.15,"ResNet-110":0.11,"dResNet-101":0.065},
{"iter":365,"ResNet-101":0.155,"ResNet-110":0.108,"dResNet-101":0.064},
{"iter":370,"ResNet-101":0.145,"ResNet-110":0.107,"dResNet-101":0.064},
{"iter":375,"ResNet-101":0.14,"ResNet-110":0.106,"dResNet-101":0.063},
{"iter":380,"ResNet-101":0.145,"ResNet-110":0.105,"dResNet-101":0.063},
{"iter":385,"ResNet-101":0.14,"ResNet-110":0.104,"dResNet-101":0.062},
{"iter":390,"ResNet-101":0.135,"ResNet-110":0.103,"dResNet-101":0.062},
{"iter":395,"ResNet-101":0.14,"ResNet-110":0.102,"dResNet-101":0.062},
{"iter":400,"ResNet-101":0.14,"ResNet-110":0.1,"dResNet-101":0.061},
{"iter":405,"ResNet-101":0.135,"ResNet-110":0.099,"dResNet-101":0.061},
{"iter":410,"ResNet-101":0.13,"ResNet-110":0.098,"dResNet-101":0.06},
{"iter":415,"ResNet-101":0.135,"ResNet-110":0.097,"dResNet-101":0.06},
{"iter":420,"ResNet-101":0.13,"ResNet-110":0.096,"dResNet-101":0.06},
{"iter":425,"ResNet-101":0.125,"ResNet-110":0.095,"dResNet-101":0.059},
{"iter":430,"ResNet-101":0.13,"ResNet-110":0.094,"dResNet-101":0.059},
{"iter":435,"ResNet-101":0.125,"ResNet-110":0.093,"dResNet-101":0.059},
{"iter":440,"ResNet-101":0.125,"ResNet-110":0.092,"dResNet-101":0.058},
{"iter":445,"ResNet-101":0.12,"ResNet-110":0.091,"dResNet-101":0.058},
{"iter":450,"ResNet-101":0.125,"ResNet-110":0.09,"dResNet-101":0.058},
{"iter":455,"ResNet-101":0.12,"ResNet-110":0.09,"dResNet-101":0.057},
{"iter":460,"ResNet-101":0.13,"ResNet-110":0.089,"dResNet-101":0.057},
{"iter":465,"ResNet-101":0.12,"ResNet-110":0.088,"dResNet-101":0.057},
{"iter":470,"ResNet-101":0.118,"ResNet-110":0.088,"dResNet-101":0.056},
{"iter":475,"ResNet-101":0.12,"ResNet-110":0.087,"dResNet-101":0.056},
{"iter":480,"ResNet-101":0.115,"ResNet-110":0.086,"dResNet-101":0.056},
{"iter":485,"ResNet-101":0.118,"ResNet-110":0.086,"dResNet-101":0.055},
{"iter":490,"ResNet-101":0.12,"ResNet-110":0.085,"dResNet-101":0.055},
{"iter":495,"ResNet-101":0.115,"ResNet-110":0.084,"dResNet-101":0.055},
{"iter":500,"ResNet-101":0.12,"ResNet-110":0.084,"dResNet-101":0.055},
{"iter":505,"ResNet-101":0.113,"ResNet-110":0.083,"dResNet-101":0.054},
{"iter":510,"ResNet-101":0.115,"ResNet-110":0.082,"dResNet-101":0.054},
{"iter":515,"ResNet-101":0.11,"ResNet-110":0.082,"dResNet-101":0.054},
{"iter":520,"ResNet-101":0.108,"ResNet-110":0.081,"dResNet-101":0.054},
{"iter":525,"ResNet-101":0.11,"ResNet-110":0.081,"dResNet-101":0.053},
{"iter":530,"ResNet-101":0.105,"ResNet-110":0.08,"dResNet-101":0.053},
{"iter":535,"ResNet-101":0.11,"ResNet-110":0.08,"dResNet-101":0.053},
{"iter":540,"ResNet-101":0.108,"ResNet-110":0.079,"dResNet-101":0.053},
{"iter":545,"ResNet-101":0.105,"ResNet-110":0.079,"dResNet-101":0.052},
{"iter":550,"ResNet-101":0.108,"ResNet-110":0.078,"dResNet-101":0.052},
{"iter":555,"ResNet-101":0.11,"ResNet-110":0.078,"dResNet-101":0.052},
{"iter":560,"ResNet-101":0.105,"ResNet-110":0.077,"dResNet-101":0.052},
{"iter":565,"ResNet-101":0.1,"ResNet-110":0.077,"dResNet-101":0.052},
{"iter":570,"ResNet-101":0.103,"ResNet-110":0.077,"dResNet-101":0.051},
{"iter":575,"ResNet-101":0.1,"ResNet-110":0.076,"dResNet-101":0.051},
{"iter":580,"ResNet-101":0.1,"ResNet-110":0.076,"dResNet-101":0.051},
{"iter":585,"ResNet-101":0.098,"ResNet-110":0.076,"dResNet-101":0.051},
{"iter":590,"ResNet-101":0.1,"ResNet-110":0.075,"dResNet-101":0.05},
{"iter":595,"ResNet-101":0.097,"ResNet-110":0.075,"dResNet-101":0.05},
{"iter":600,"ResNet-101":0.1,"ResNet-110":0.075,"dResNet-101":0.05},
{"iter":605,"ResNet-101":0.098,"ResNet-110":0.075,"dResNet-101":0.05},
{"iter":610,"ResNet-101":0.1,"ResNet-110":0.074,"dResNet-101":0.05},
{"iter":615,"ResNet-101":0.098,"ResNet-110":0.074,"dResNet-101":0.05},
{"iter":620,"ResNet-101":0.1,"ResNet-110":0.074,"dResNet-101":0.058}
]
},
"spacing": 20,
"resolve": {"scale": {"color": "independent", "fill": "independent"}, "legend": {"color": "independent", "fill": "independent"}},
"vconcat": [
{"spacing": 5,
 "resolve": {"scale": {"color": "independent", "fill": "independent"}, "legend": {"color": "independent", "fill": "independent"}},
 "hconcat": [
{
"width": 495, "height": 312,
"layer": [
{"data": {"name": "trainAcc"},
 "transform": [{"fold": ["ResNet-101","ResNet-110","dResNet-101"], "as": ["model","value"]}],
 "mark": {"type": "line", "strokeWidth": 3},
 "encoding": {
  "x": {"field": "iter", "type": "quantitative", "scale": {"domain": [0,620], "nice": false},
   "axis": {"orient": "bottom", "title": "Iteration", "values": [0,20,40,60,80,100,120,140,160,180,200,220,240,260,280,300,320,340,360,380,400,420,440,460,480,500,520,540,560,580,600,620],
    "labelExpr": "datum.value % 100 === 0 ? datum.label : ''",
    "gridColor": {"condition": {"test": "datum.value % 100 === 0", "value": "#d9d9d9"}, "value": "#bdbdbd"},
    "gridDash": {"condition": {"test": "datum.value % 100 === 0", "value": []}, "value": [1,2]},
    "tickOpacity": {"condition": {"test": "datum.value % 100 === 0", "value": 1}, "value": 0}}},
  "y": {"field": "value", "type": "quantitative", "scale": {"domain": [0,105], "nice": false},
   "axis": {"orient": "left", "title": "Accuracy (%)", "titleFontSize": 23, "values": [0,5,10,15,20,25,30,35,40,45,50,55,60,65,70,75,80,85,90,95,100,105],
    "labelExpr": "datum.value % 20 === 0 ? datum.label : ''",
    "gridColor": {"condition": {"test": "datum.value % 20 === 0", "value": "#d9d9d9"}, "value": "#bdbdbd"},
    "gridDash": {"condition": {"test": "datum.value % 20 === 0", "value": []}, "value": [1,2]},
    "tickOpacity": {"condition": {"test": "datum.value % 20 === 0", "value": 1}, "value": 0}}},
  "color": {"field": "model", "type": "nominal", "scale": {"domain": ["ResNet-101","ResNet-110","dResNet-101"], "range": ["#ff0000","#00ff00","#0000ff"]},
   "legend": {"orient": "none", "legendX": 48, "legendY": 168, "direction": "horizontal", "title": "Training procedure (the first HI dataset)", "symbolType": "stroke", "symbolSize": 1225, "symbolStrokeWidth": 4}}
 }},
{"data": {"values": [{}]},
 "mark": {"type": "rect", "fill": "#ffffff", "stroke": "#262626", "strokeWidth": 1},
 "encoding": {"x": {"datum": 65.1, "type": "quantitative", "axis": null}, "x2": {"datum": 564.9}, "y": {"datum": 30.96, "type": "quantitative", "axis": null}, "y2": {"datum": 48.46}}},
{"data": {"values": [{}]},
 "mark": {"type": "rule", "color": "#262626", "strokeWidth": 1},
 "encoding": {"x": {"datum": 65.1, "type": "quantitative", "axis": null}, "x2": {"datum": 564.9}, "y": {"datum": 39.7, "type": "quantitative", "axis": null}}},
{"data": {"values": [{}]},
 "mark": {"type": "rect", "color": "#d2d2d2"},
 "encoding": {
  "x": {"datum": 0, "type": "quantitative", "axis": {"orient": "top", "values": [0,100,200,300,400,500,600], "labels": false, "grid": false, "title": null}},
  "x2": {"datum": 40},
  "y": {"datum": 97.5, "type": "quantitative", "axis": {"orient": "right", "values": [0,20,40,60,80,100], "labels": false, "grid": false, "title": null}},
  "y2": {"datum": 105}}},
{"data": {"values": [{}]},
 "mark": {"type": "text", "text": "(a)", "font": "Liberation Serif", "fontSize": 17, "fontWeight": "bold", "color": "#262626"},
 "encoding": {"x": {"datum": 20, "type": "quantitative", "axis": null}, "y": {"datum": 101.2, "type": "quantitative", "axis": null}}}
],
"resolve": {"axis": {"x": "independent", "y": "independent"}}
},
{
"width": 499, "height": 312,
"layer": [
{"data": {"name": "trainLoss"},
 "transform": [{"fold": ["ResNet-101","ResNet-110","dResNet-101"], "as": ["model","value"]}],
 "mark": {"type": "line", "strokeWidth": 3},
 "encoding": {
  "x": {"field": "iter", "type": "quantitative", "scale": {"domain": [0,620], "nice": false},
   "axis": {"orient": "bottom", "title": "Iteration", "values": [0,20,40,60,80,100,120,140,160,180,200,220,240,260,280,300,320,340,360,380,400,420,440,460,480,500,520,540,560,580,600,620],
    "labelExpr": "datum.value % 100 === 0 ? datum.label : ''",
    "gridColor": {"condition": {"test": "datum.value % 100 === 0", "value": "#d9d9d9"}, "value": "#bdbdbd"},
    "gridDash": {"condition": {"test": "datum.value % 100 === 0", "value": []}, "value": [1,2]},
    "tickOpacity": {"condition": {"test": "datum.value % 100 === 0", "value": 1}, "value": 0}}},
  "y": {"field": "value", "type": "quantitative", "scale": {"domain": [0,3], "nice": false},
   "axis": {"orient": "left", "title": "Loss", "format": "~g", "labelPadding": 11, "values": [0,0.1,0.2,0.3,0.4,0.5,0.6,0.7,0.8,0.9,1,1.1,1.2,1.3,1.4,1.5,1.6,1.7,1.8,1.9,2,2.1,2.2,2.3,2.4,2.5,2.6,2.7,2.8,2.9,3],
    "labelExpr": "abs(datum.value*2 - round(datum.value*2)) < 0.001 ? datum.label : ''",
    "gridColor": {"condition": {"test": "abs(datum.value*2 - round(datum.value*2)) < 0.001", "value": "#d9d9d9"}, "value": "#bdbdbd"},
    "gridDash": {"condition": {"test": "abs(datum.value*2 - round(datum.value*2)) < 0.001", "value": []}, "value": [1,2]},
    "tickOpacity": {"condition": {"test": "abs(datum.value*2 - round(datum.value*2)) < 0.001", "value": 1}, "value": 0}}},
  "color": {"field": "model", "type": "nominal", "scale": {"domain": ["ResNet-101","ResNet-110","dResNet-101"], "range": ["#ff0000","#00ff00","#0000ff"]},
   "legend": {"orient": "none", "legendX": 66, "legendY": 86, "direction": "horizontal", "title": "Training procedure (the first HI dataset)", "symbolType": "stroke", "symbolSize": 1225, "symbolStrokeWidth": 4}}
 }},
{"data": {"values": [{}]},
 "mark": {"type": "rect", "fill": "#ffffff", "stroke": "#262626", "strokeWidth": 1},
 "encoding": {"x": {"datum": 87, "type": "quantitative", "axis": null}, "x2": {"datum": 586.5}, "y": {"datum": 1.663, "type": "quantitative", "axis": null}, "y2": {"datum": 2.173}}},
{"data": {"values": [{}]},
 "mark": {"type": "rule", "color": "#262626", "strokeWidth": 1},
 "encoding": {"x": {"datum": 87, "type": "quantitative", "axis": null}, "x2": {"datum": 586.5}, "y": {"datum": 1.913, "type": "quantitative", "axis": null}}},
{"data": {"values": [{}]},
 "mark": {"type": "rect", "color": "#d2d2d2"},
 "encoding": {
  "x": {"datum": 586, "type": "quantitative", "axis": {"orient": "top", "values": [0,100,200,300,400,500,600], "labels": false, "grid": false, "title": null}},
  "x2": {"datum": 620},
  "y": {"datum": 2.785, "type": "quantitative", "axis": {"orient": "right", "values": [0,0.5,1,1.5,2,2.5,3], "labels": false, "grid": false, "title": null}},
  "y2": {"datum": 3}}},
{"data": {"values": [{}]},
 "mark": {"type": "text", "text": "(b)", "font": "Liberation Serif", "fontSize": 17, "fontWeight": "bold", "color": "#262626"},
 "encoding": {"x": {"datum": 603, "type": "quantitative", "axis": null}, "y": {"datum": 2.892, "type": "quantitative", "axis": null}}}
],
"resolve": {"axis": {"x": "independent", "y": "independent"}}
}
]},
{"spacing": 5,
 "resolve": {"scale": {"color": "independent", "fill": "independent"}, "legend": {"color": "independent", "fill": "independent"}},
 "hconcat": [
{
"width": 495, "height": 311,
"layer": [
{"data": {"name": "testAcc"},
 "transform": [{"fold": ["ResNet-101","ResNet-110","dResNet-101"], "as": ["model","value"]}],
 "mark": {"type": "line", "strokeWidth": 1.6},
 "encoding": {
  "x": {"field": "iter", "type": "quantitative", "scale": {"domain": [0,620], "nice": false},
   "axis": {"orient": "bottom", "title": "Iteration", "values": [0,20,40,60,80,100,120,140,160,180,200,220,240,260,280,300,320,340,360,380,400,420,440,460,480,500,520,540,560,580,600,620],
    "labelExpr": "datum.value % 100 === 0 ? datum.label : ''",
    "gridColor": {"condition": {"test": "datum.value % 100 === 0", "value": "#d9d9d9"}, "value": "#bdbdbd"},
    "gridDash": {"condition": {"test": "datum.value % 100 === 0", "value": []}, "value": [1,2]},
    "tickOpacity": {"condition": {"test": "datum.value % 100 === 0", "value": 1}, "value": 0}}},
  "y": {"field": "value", "type": "quantitative", "scale": {"domain": [0,105], "nice": false},
   "axis": {"orient": "left", "title": "Accuracy (%)", "titleFontSize": 23, "values": [0,5,10,15,20,25,30,35,40,45,50,55,60,65,70,75,80,85,90,95,100,105],
    "labelExpr": "datum.value % 20 === 0 ? datum.label : ''",
    "gridColor": {"condition": {"test": "datum.value % 20 === 0", "value": "#d9d9d9"}, "value": "#bdbdbd"},
    "gridDash": {"condition": {"test": "datum.value % 20 === 0", "value": []}, "value": [1,2]},
    "tickOpacity": {"condition": {"test": "datum.value % 20 === 0", "value": 1}, "value": 0}}},
  "color": {"field": "model", "type": "nominal", "scale": {"domain": ["dResNet-101","ResNet-110","ResNet-101"], "range": ["#000000","#555555","#000000"]}, "legend": null}
 }},
{"data": {"name": "testAcc"},
 "transform": [{"fold": ["ResNet-101","ResNet-110","dResNet-101"], "as": ["model","value"]}],
 "mark": {"type": "point", "shape": "circle", "filled": true, "size": 48, "stroke": "#444444", "strokeWidth": 1.3, "opacity": 1},
 "encoding": {
  "x": {"field": "iter", "type": "quantitative", "axis": null},
  "y": {"field": "value", "type": "quantitative", "axis": null},
  "fill": {"field": "model", "type": "nominal", "scale": {"domain": ["ResNet-101","ResNet-110","dResNet-101"], "range": ["#ee1111","#11dd11","#ffffff"]},
   "legend": {"orient": "none", "legendX": 47, "legendY": 168, "direction": "horizontal", "title": "Test procedure (the first HI dataset)", "symbolType": "M-1,0H-0.24M0.24,0H1M0.24,0A0.24,0.24,0,1,1,-0.24,0A0.24,0.24,0,1,1,0.24,0Z", "symbolSize": 1296, "symbolStrokeColor": "#222222", "symbolStrokeWidth": 1.6}}
 }},
{"data": {"values": [{}]},
 "mark": {"type": "rect", "fill": "#ffffff", "stroke": "#262626", "strokeWidth": 1},
 "encoding": {"x": {"datum": 65.1, "type": "quantitative", "axis": null}, "x2": {"datum": 564.9}, "y": {"datum": 30.15, "type": "quantitative", "axis": null}, "y2": {"datum": 48.28}}},
{"data": {"values": [{}]},
 "mark": {"type": "rule", "color": "#262626", "strokeWidth": 1},
 "encoding": {"x": {"datum": 65.1, "type": "quantitative", "axis": null}, "x2": {"datum": 564.9}, "y": {"datum": 39.4, "type": "quantitative", "axis": null}}},
{"data": {"values": [{}]},
 "mark": {"type": "rect", "color": "#d2d2d2"},
 "encoding": {
  "x": {"datum": 0, "type": "quantitative", "axis": {"orient": "top", "values": [0,100,200,300,400,500,600], "labels": false, "grid": false, "title": null}},
  "x2": {"datum": 40},
  "y": {"datum": 97.3, "type": "quantitative", "axis": {"orient": "right", "values": [0,20,40,60,80,100], "labels": false, "grid": false, "title": null}},
  "y2": {"datum": 105}}},
{"data": {"values": [{}]},
 "mark": {"type": "text", "text": "(c)", "font": "Liberation Serif", "fontSize": 17, "fontWeight": "bold", "color": "#262626"},
 "encoding": {"x": {"datum": 20, "type": "quantitative", "axis": null}, "y": {"datum": 101.1, "type": "quantitative", "axis": null}}}
],
"resolve": {"axis": {"x": "independent", "y": "independent"}}
},
{
"width": 499, "height": 311,
"layer": [
{"data": {"name": "testLoss"},
 "transform": [{"fold": ["ResNet-101","ResNet-110","dResNet-101"], "as": ["model","value"]}],
 "mark": {"type": "line", "strokeWidth": 1.6},
 "encoding": {
  "x": {"field": "iter", "type": "quantitative", "scale": {"domain": [0,620], "nice": false},
   "axis": {"orient": "bottom", "title": "Iteration", "values": [0,20,40,60,80,100,120,140,160,180,200,220,240,260,280,300,320,340,360,380,400,420,440,460,480,500,520,540,560,580,600,620],
    "labelExpr": "datum.value % 100 === 0 ? datum.label : ''",
    "gridColor": {"condition": {"test": "datum.value % 100 === 0", "value": "#d9d9d9"}, "value": "#bdbdbd"},
    "gridDash": {"condition": {"test": "datum.value % 100 === 0", "value": []}, "value": [1,2]},
    "tickOpacity": {"condition": {"test": "datum.value % 100 === 0", "value": 1}, "value": 0}}},
  "y": {"field": "value", "type": "quantitative", "scale": {"domain": [0,3], "nice": false},
   "axis": {"orient": "left", "title": "Loss", "format": "~g", "labelPadding": 11, "values": [0,0.1,0.2,0.3,0.4,0.5,0.6,0.7,0.8,0.9,1,1.1,1.2,1.3,1.4,1.5,1.6,1.7,1.8,1.9,2,2.1,2.2,2.3,2.4,2.5,2.6,2.7,2.8,2.9,3],
    "labelExpr": "abs(datum.value*2 - round(datum.value*2)) < 0.001 ? datum.label : ''",
    "gridColor": {"condition": {"test": "abs(datum.value*2 - round(datum.value*2)) < 0.001", "value": "#d9d9d9"}, "value": "#bdbdbd"},
    "gridDash": {"condition": {"test": "abs(datum.value*2 - round(datum.value*2)) < 0.001", "value": []}, "value": [1,2]},
    "tickOpacity": {"condition": {"test": "abs(datum.value*2 - round(datum.value*2)) < 0.001", "value": 1}, "value": 0}}},
  "color": {"field": "model", "type": "nominal", "scale": {"domain": ["dResNet-101","ResNet-110","ResNet-101"], "range": ["#444444","#111111","#333333"]}, "legend": null}
 }},
{"data": {"name": "testLoss"},
 "transform": [{"fold": ["ResNet-101","ResNet-110","dResNet-101"], "as": ["model","value"]}],
 "mark": {"type": "point", "shape": "circle", "filled": true, "size": 40, "stroke": "#444444", "strokeWidth": 1.6, "opacity": 1},
 "encoding": {
  "x": {"field": "iter", "type": "quantitative", "axis": null},
  "y": {"field": "value", "type": "quantitative", "axis": null},
  "fill": {"field": "model", "type": "nominal", "scale": {"domain": ["ResNet-101","ResNet-110","dResNet-101"], "range": ["#ee1111","#11dd11","#ffffff"]},
   "legend": {"orient": "none", "legendX": 67, "legendY": 87, "direction": "horizontal", "title": "Test procedure (the first HI dataset)", "labelExpr": "datum.label == 'ResNet-110' ? 'ResNet-101' : datum.label", "symbolType": "M-1,0H-0.24M0.24,0H1M0.24,0A0.24,0.24,0,1,1,-0.24,0A0.24,0.24,0,1,1,0.24,0Z", "symbolSize": 1296, "symbolStrokeColor": "#333333", "symbolStrokeWidth": 1.6}}
 }},
{"data": {"values": [{}]},
 "mark": {"type": "rect", "fill": "#ffffff", "stroke": "#262626", "strokeWidth": 1},
 "encoding": {"x": {"datum": 88.2, "type": "quantitative", "axis": null}, "x2": {"datum": 586.5}, "y": {"datum": 1.647, "type": "quantitative", "axis": null}, "y2": {"datum": 2.161}}},
{"data": {"values": [{}]},
 "mark": {"type": "rule", "color": "#262626", "strokeWidth": 1},
 "encoding": {"x": {"datum": 88.2, "type": "quantitative", "axis": null}, "x2": {"datum": 586.5}, "y": {"datum": 1.903, "type": "quantitative", "axis": null}}},
{"data": {"values": [{}]},
 "mark": {"type": "rect", "color": "#d2d2d2"},
 "encoding": {
  "x": {"datum": 586, "type": "quantitative", "axis": {"orient": "top", "values": [0,100,200,300,400,500,600], "labels": false, "grid": false, "title": null}},
  "x2": {"datum": 620},
  "y": {"datum": 2.785, "type": "quantitative", "axis": {"orient": "right", "values": [0,0.5,1,1.5,2,2.5,3], "labels": false, "grid": false, "title": null}},
  "y2": {"datum": 3}}},
{"data": {"values": [{}]},
 "mark": {"type": "text", "text": "(d)", "font": "Liberation Serif", "fontSize": 17, "fontWeight": "bold", "color": "#262626"},
 "encoding": {"x": {"datum": 603, "type": "quantitative", "axis": null}, "y": {"datum": 2.892, "type": "quantitative", "axis": null}}}
],
"resolve": {"axis": {"x": "independent", "y": "independent"}}
}
]}
],
"config": {
 "view": {"stroke": "#262626", "strokeWidth": 1},
 "axis": {"domain": false, "labelFont": "DejaVu Serif", "labelFontSize": 15, "labelFontWeight": "bold", "labelColor": "#262626",
  "titleFont": "Liberation Serif", "titleFontSize": 21, "titleFontWeight": "bold", "titleColor": "#262626",
  "grid": true, "gridWidth": 1, "tickColor": "#262626", "tickSize": -5, "tickWidth": 1, "labelPadding": 13,
  "labelOverlap": false, "labelFlush": false, "titlePadding": 4},
 "legend": {"titleFont": "Liberation Serif", "titleFontSize": 17.5, "titleFontWeight": "bold", "titleColor": "#000000", "titleAnchor": "middle", "titleLimit": 600, "titlePadding": 1,
  "labelFont": "Liberation Serif", "labelFontSize": 17.5, "labelFontWeight": "bold", "labelColor": "#000000", "labelLimit": 300, "labelOffset": 4, "columnPadding": -5,
  "padding": 4}
}
}
